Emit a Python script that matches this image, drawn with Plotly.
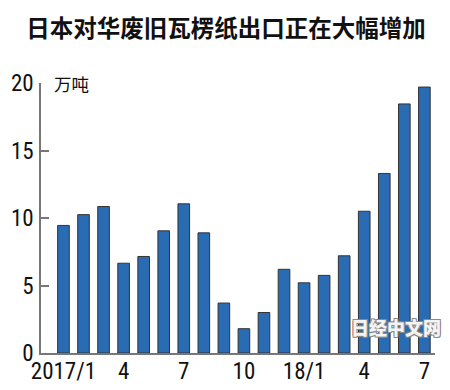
import plotly.graph_objects as go

months = ["2017/1", "2017/2", "2017/3", "2017/4", "2017/5", "2017/6", "2017/7", "2017/8",
          "2017/9", "2017/10", "2017/11", "2017/12", "2018/1", "2018/2", "2018/3", "2018/4",
          "2018/5", "2018/6", "2018/7"]
values = [9.45, 10.25, 10.85, 6.65, 7.15, 9.05, 11.05, 8.9, 3.7, 1.8, 3.0, 6.2, 5.2, 5.75,
          7.2, 10.5, 13.3, 18.45, 19.7]
tick_months = ["2017/1", "2017/4", "2017/7", "2017/10", "2018/1", "2018/4", "2018/7"]
tick_labels = ["2017/1", "4", "7", "10", "18/1", "4", "7"]
y_ticks = [0, 5, 10, 15, 20]

title_text = "日本对华废旧瓦楞纸出口正在大幅增加"
unit_text = "万吨"
watermark = "日经中文网"

num_font = "Roboto Condensed, Liberation Sans Narrow, DejaVu Sans Condensed, sans-serif"
cjk_font = "Noto Sans CJK SC, sans-serif"

# page body has an 8px default margin; figure coordinates = window coordinates - 8
W, H = 442, 382
L, R, T, B = 33, 15, 74.7, 37.3

fig = go.Figure()
fig.add_trace(go.Bar(
    x=list(range(len(months))), y=values,
    marker=dict(color="#2a6cb4", line=dict(color="#333333", width=1)),
    hovertext=months,
))

idx = [months.index(m) for m in tick_months]
pw, ph = W - L - R, H - T - B

fig.update_layout(
    width=W, height=H,
    margin=dict(l=L, r=R, t=T, b=B, pad=0, autoexpand=False),
    paper_bgcolor="white", plot_bgcolor="white",
    bargap=0.42,
    showlegend=False,
    title=dict(text=title_text, x=218 / W, xanchor="center", y=1 - 21 / H, yanchor="middle",
               font=dict(family=cjk_font, size=23.5, color="#111111", weight=600)),
    xaxis=dict(
        range=[-1.12, 18.53], automargin=False,
        tickmode="array", tickvals=idx, ticktext=tick_labels,
        showline=True, linecolor="#777777", linewidth=1.5,
        ticks="", showgrid=False, zeroline=False,
        tickfont=dict(family=num_font, size=23, color="#111111"),
        ticklabelstandoff=-3,
    ),
    yaxis=dict(
        range=[0, 20], automargin=False,
        tickmode="array", tickvals=y_ticks,
        showline=True, linecolor="#777777", linewidth=1.5,
        ticks="inside", ticklen=8, tickcolor="#777777", tickwidth=1.5,
        showgrid=False, zeroline=False,
        tickfont=dict(family=num_font, size=23, color="#111111"),
        ticklabelstandoff=1,
    ),
    annotations=[
        dict(text=unit_text, xref="paper", yref="paper",
             x=11 / pw, y=(270 - 0.3) / ph, xanchor="left", yanchor="middle",
             showarrow=False, font=dict(family=cjk_font, size=17.5, color="#111111")),
        dict(text=watermark, xref="paper", yref="paper",
             x=(396 - 41) / pw, y=25.7 / ph, xanchor="center", yanchor="middle",
             showarrow=False,
             font=dict(family=cjk_font, size=18, color="#f4f4f4", weight=900,
                       shadow="1px 1px 0 #8a8a8a, -1px -1px 0 #8a8a8a, 1px -1px 0 #8a8a8a, -1px 1px 0 #8a8a8a")),
    ],
)

fig.write_html("out.html")
